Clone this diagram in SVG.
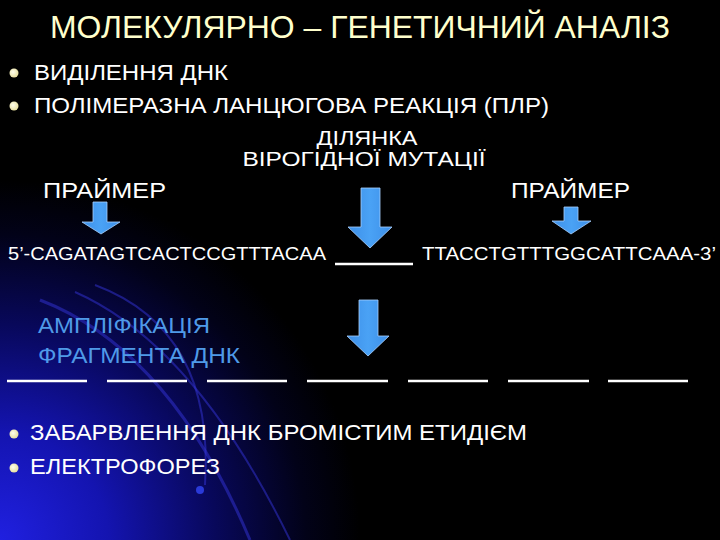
<svg xmlns="http://www.w3.org/2000/svg" width="720" height="540" viewBox="0 0 720 540">
<defs>
<radialGradient id="bg" cx="0" cy="540" r="360" gradientUnits="userSpaceOnUse">
<stop offset="0" stop-color="#2020e0"/>
<stop offset="0.3" stop-color="#1414b0"/>
<stop offset="0.6" stop-color="#08085a"/>
<stop offset="0.85" stop-color="#020218"/>
<stop offset="1" stop-color="#000000"/>
</radialGradient>
<linearGradient id="arr" x1="0" y1="0" x2="1" y2="0">
<stop offset="0" stop-color="#3d8fe8"/>
<stop offset="0.5" stop-color="#4aa2f5"/>
<stop offset="1" stop-color="#3d8fe8"/>
</linearGradient>
<radialGradient id="bul" cx="0.4" cy="0.4" r="0.6">
<stop offset="0" stop-color="#ffffee"/>
<stop offset="1" stop-color="#e8e0a0"/>
</radialGradient>
</defs>
<style>
.t{font-family:"Liberation Sans","Arial",sans-serif;fill:#ffffff}
.ti{font-family:"Liberation Sans","Arial",sans-serif;fill:#ffffcc;font-size:32px}
.bl{font-family:"Liberation Sans","Arial",sans-serif;fill:#4f9ae8;font-size:22px}
.ar{fill:url(#arr);stroke:#a8d0ff;stroke-width:0.8}
.dash{stroke:#ffffff;stroke-width:2.5}
.arc{fill:none;stroke:#3434d8;stroke-opacity:0.5}
</style>
<rect width="720" height="540" fill="#000"/>
<rect width="720" height="540" fill="url(#bg)"/>
<g id="background-arcs">
<path class="arc" d="M40,300 Q170,350 250,540" stroke-width="3"/>
<path class="arc" d="M75,292 Q195,345 290,540" stroke-width="2"/>
<path class="arc" d="M95,285 Q215,330 205,485" stroke-width="2"/>
<circle cx="200" cy="490" r="4" fill="#2a3ad8"/>
</g>
<g id="title"><text class="ti" x="360" y="38" text-anchor="middle" textLength="620" lengthAdjust="spacingAndGlyphs">МОЛЕКУЛЯРНО – ГЕНЕТИЧНИЙ АНАЛІЗ</text></g>
<g id="steps-top">
<circle cx="14" cy="73" r="4.5" fill="url(#bul)"/>
<text class="t" x="34" y="80" font-size="22" textLength="194" lengthAdjust="spacingAndGlyphs">ВИДІЛЕННЯ ДНК</text>
<circle cx="14" cy="106" r="4.5" fill="url(#bul)"/>
<text class="t" x="34" y="113" font-size="22" textLength="515" lengthAdjust="spacingAndGlyphs">ПОЛІМЕРАЗНА ЛАНЦЮГОВА РЕАКЦІЯ (ПЛР)</text>
</g>
<g id="mutation-label">
<text class="t" x="367" y="145" font-size="21" text-anchor="middle" textLength="101" lengthAdjust="spacingAndGlyphs">ДІЛЯНКА</text>
<text class="t" x="364" y="166" font-size="21" text-anchor="middle" textLength="243" lengthAdjust="spacingAndGlyphs">ВІРОГІДНОЇ МУТАЦІЇ</text>
</g>
<g id="primer-left"><text class="t" x="43" y="198" font-size="22" textLength="123" lengthAdjust="spacingAndGlyphs">ПРАЙМЕР</text></g>
<g id="primer-right"><text class="t" x="511" y="198" font-size="22" textLength="119" lengthAdjust="spacingAndGlyphs">ПРАЙМЕР</text></g>
<g id="arrows">
<polygon class="ar" points="93,202 107,202 107,222 120,222 101,234 82,222 93,222"/>
<polygon class="ar" points="361,188 380,188 380,227 392,227 370,248 348,227 361,227"/>
<polygon class="ar" points="564,207 578,207 578,221 591,221 571,234 552,221 564,221"/>
<polygon class="ar" points="359,300 378,300 378,336 389,336 368,356 347,336 359,336"/>
</g>
<g id="sequence">
<text class="t" x="8" y="260" font-size="18" textLength="318" lengthAdjust="spacingAndGlyphs">5’-CAGATAGTCACTCCGTTTACAA</text>
<line class="dash" x1="335" y1="264" x2="413" y2="264"/>
<text class="t" x="422" y="260" font-size="18" textLength="294" lengthAdjust="spacingAndGlyphs">TTACCTGTTTGGCATTCAAA-3’</text>
</g>
<g id="amplification">
<text class="bl" x="38" y="333" textLength="172" lengthAdjust="spacingAndGlyphs">АМПЛІФІКАЦІЯ</text>
<text class="bl" x="38" y="363" textLength="202" lengthAdjust="spacingAndGlyphs">ФРАГМЕНТА ДНК</text>
</g>
<g id="fragments">
<line class="dash" x1="7" y1="381" x2="87" y2="381"/>
<line class="dash" x1="107" y1="381" x2="187" y2="381"/>
<line class="dash" x1="207" y1="381" x2="287" y2="381"/>
<line class="dash" x1="307" y1="381" x2="388" y2="381"/>
<line class="dash" x1="408" y1="381" x2="488" y2="381"/>
<line class="dash" x1="508" y1="381" x2="589" y2="381"/>
<line class="dash" x1="608" y1="381" x2="688" y2="381"/>
</g>
<g id="steps-bottom">
<circle cx="14" cy="434" r="4.5" fill="url(#bul)"/>
<text class="t" x="30" y="440" font-size="22" textLength="497" lengthAdjust="spacingAndGlyphs">ЗАБАРВЛЕННЯ ДНК БРОМІСТИМ ЕТИДІЄМ</text>
<circle cx="14" cy="468" r="4.5" fill="url(#bul)"/>
<text class="t" x="30" y="474" font-size="22" textLength="190" lengthAdjust="spacingAndGlyphs">ЕЛЕКТРОФОРЕЗ</text>
</g>
</svg>
